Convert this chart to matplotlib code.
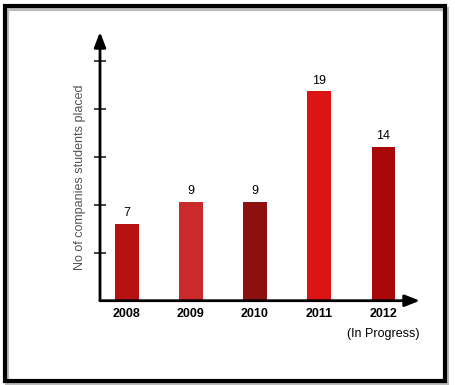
import matplotlib.pyplot as plt
import numpy as np
from matplotlib.patches import Rectangle

years = ['2008', '2009', '2010', '2011', '2012']
placed = [7, 9, 9, 19, 14]
bar_colors = ['#b81111', '#cc2a2a', '#8c1010', '#dc1414', '#a80808']

plt.rcParams['font.family'] = ['Liberation Sans', 'DejaVu Sans']

fig = plt.figure(figsize=(4.55, 3.85), dpi=100)

# outer frame with a light shadow
fig.patches.append(Rectangle((7 / 455, 2 / 385), 440 / 455, 374 / 385, transform=fig.transFigure,
                             fill=False, edgecolor='#bbbbbb', lw=3, zorder=0))
fig.patches.append(Rectangle((5 / 455, 4 / 385), 440 / 455, 375 / 385, transform=fig.transFigure,
                             fill=False, edgecolor='black', lw=3, zorder=1))

ax = fig.add_axes([100 / 455, 84.3 / 385, 320 / 455, 268.7 / 385])
x = np.arange(len(years))
bars = ax.bar(x, placed, width=0.37, color=bar_colors, zorder=2)

for b, v in zip(bars, placed):
    ax.annotate(str(v), (b.get_x() + b.get_width() / 2, b.get_height()),
                xytext=(0, 3), textcoords='offset points', ha='center', va='bottom',
                fontsize=9, color='black')

ax.set_xlim(-0.416, 4.57)
ax.set_ylim(0, 24.4)

for s in ax.spines.values():
    s.set_visible(False)

# axes drawn as arrows
arrow = dict(arrowstyle='-|>,head_length=0.9,head_width=0.35', lw=2, color='black',
             shrinkA=0, shrinkB=0)
ax.annotate('', xy=(0, 1), xytext=(0, 0), xycoords='axes fraction', arrowprops=arrow)
ax.annotate('', xy=(1, 0), xytext=(0, 0), xycoords='axes fraction', arrowprops=arrow)

ax.set_yticks(np.arange(1, 6) * 4.36)
ax.set_yticklabels([])
ax.tick_params(axis='y', direction='inout', length=8, width=1.2, color='#222222')

ax.set_xticks(x)
ax.set_xticklabels(years, fontsize=9, fontweight='bold')
ax.tick_params(axis='x', length=0, pad=5)
ax.text(4, -0.1, '(In Progress)', transform=ax.get_xaxis_transform(),
        ha='center', va='top', fontsize=9)

ax.set_ylabel('No of companies students placed', fontsize=9, color='#555555')
ax.yaxis.set_label_coords(-0.045, 0.46)

fig.savefig('out.png', dpi=100)
